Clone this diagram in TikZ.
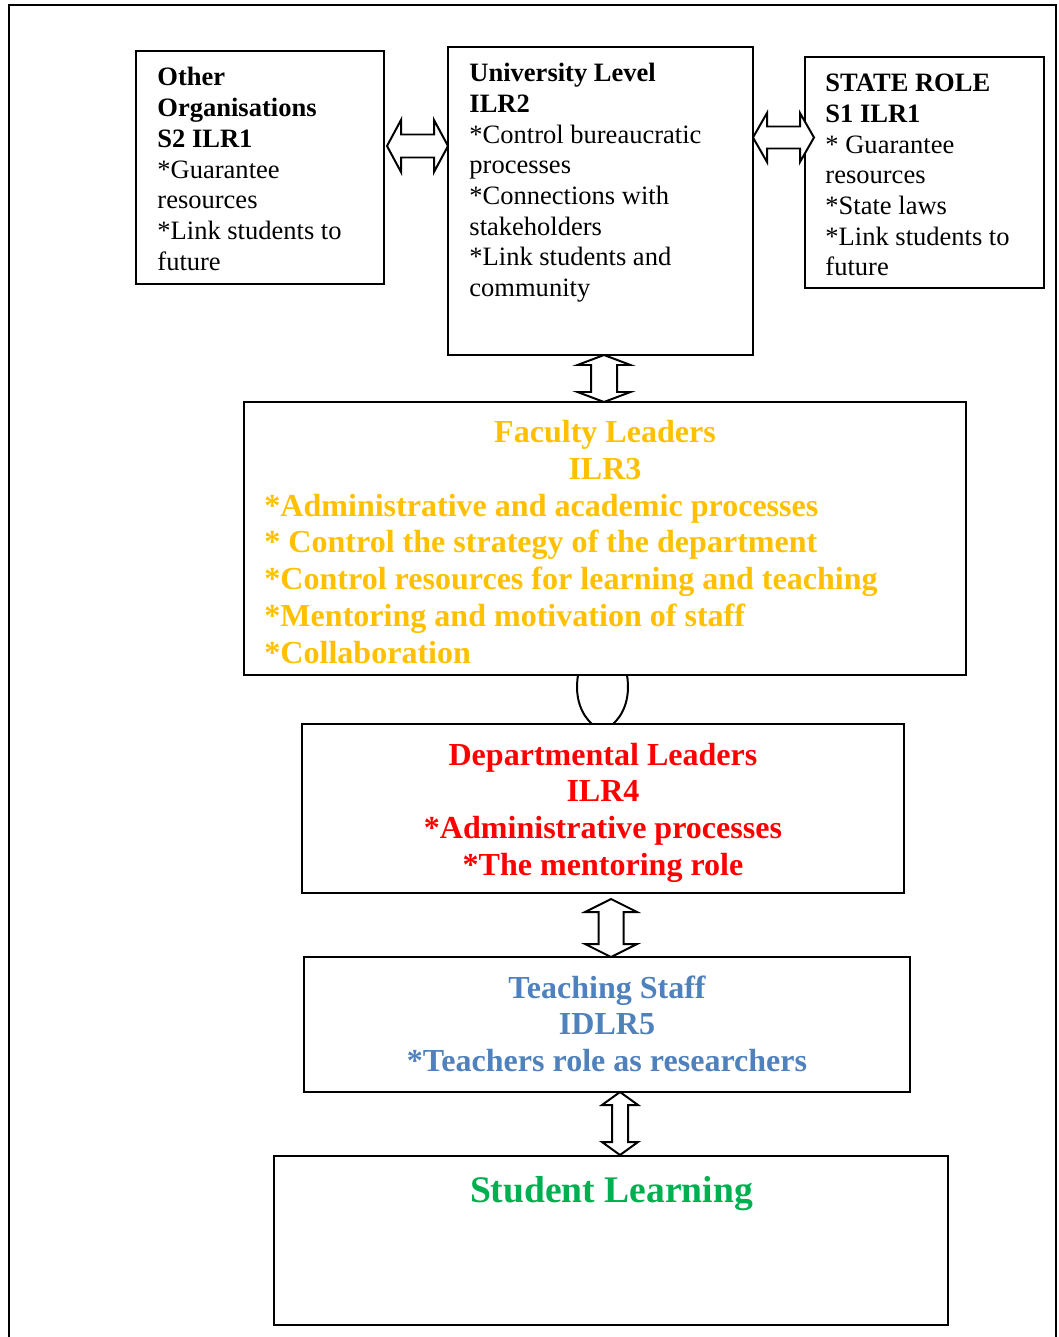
\documentclass[tikz,border=0pt]{standalone}
\usepackage{fontspec}
\setmainfont{Liberation Serif}
\usetikzlibrary{fit}
\definecolor{facyel}{HTML}{FFC000}
\definecolor{depred}{HTML}{FF0000}
\definecolor{teablue}{HTML}{4F81BD}
\definecolor{stugreen}{HTML}{00B050}
% horizontal double arrow: x1, x2, yc, head half height, shaft half height, head length
\newcommand{\hdarr}[6]{%
  \draw[fatarrow] (#1,#3) -- ({#1+#6},{#3-#4}) -- ({#1+#6},{#3-#5}) -- ({#2-#6},{#3-#5})
    -- ({#2-#6},{#3-#4}) -- (#2,#3) -- ({#2-#6},{#3+#4}) -- ({#2-#6},{#3+#5})
    -- ({#1+#6},{#3+#5}) -- ({#1+#6},{#3+#4}) -- cycle;}
% vertical double arrow: xc, y1, y2, head half width, shaft half width, head length
\newcommand{\vdarr}[6]{%
  \draw[fatarrow] (#1,#2) -- ({#1+#4},{#2+#6}) -- ({#1+#5},{#2+#6}) -- ({#1+#5},{#3-#6})
    -- ({#1+#4},{#3-#6}) -- (#1,#3) -- ({#1-#4},{#3-#6}) -- ({#1-#5},{#3-#6})
    -- ({#1-#5},{#2+#6}) -- ({#1-#4},{#2+#6}) -- cycle;}
\begin{document}
\begin{tikzpicture}[x=0.4525pt,y=-0.4525pt,
  box/.style={draw, line width=0.9pt, inner sep=0pt},
  fatarrow/.style={draw, line width=0.9pt, fill=white, line join=miter},
  small/.style={font=\fontsize{12}{14}\selectfont, inner sep=0pt},
  mid/.style={font=\fontsize{14.5}{17}\selectfont\bfseries, inner sep=0pt},
  big/.style={font=\fontsize{17}{20}\selectfont\bfseries, inner sep=0pt}]
\useasboundingbox (0,0) rectangle (1058,1337);
% outer frame (bottom edge lies below the page)
\draw[line width=0.9pt] (9,1350) -- (9,5) -- (1056,5) -- (1056,1350);

% boxes
\node[box, fit={(136,51)(384,284)}] (oth) {};
\node[box, fit={(448,47)(753,355)}] (uni) {};
\node[box, fit={(805,57)(1044,288)}] (sta) {};
\node[box, fit={(244,402)(966,675)}] (fac) {};
\node[box, fit={(302,724)(904,893)}] (dep) {};
\node[box, fit={(304,957)(910,1092)}] (tea) {};
\node[box, fit={(274,1156)(948,1325)}] (stu) {};

% texts of the top boxes
\foreach \t [count=\i] in {\textbf{Other},\textbf{Organisations},\textbf{S2 ILR1},*Guarantee,resources,*Link students to,future}
  \node[small, anchor=base west] (otht\i) at (157,{86+(\i-1)*30.7}) {\t};
\foreach \t [count=\i] in {\textbf{University Level},\textbf{ILR2},*Control bureaucratic,processes,*Connections with,stakeholders,*Link students and,community}
  \node[small, anchor=base west] (unit\i) at (469,{82+(\i-1)*30.6}) {\t};
\foreach \t [count=\i] in {\textbf{STATE ROLE},\textbf{S1 ILR1},* Guarantee,resources,*State laws,*Link students to,future}
  \node[small, anchor=base west] (stat\i) at (825,{92+(\i-1)*30.6}) {\t};

% faculty leaders
\node[mid, text=facyel, anchor=base] (fact1) at (605,442) {Faculty Leaders};
\node[mid, text=facyel, anchor=base] (fact2) at (605,479) {ILR3};
\foreach \t [count=\i] in {*Administrative and academic processes,* Control the strategy of the department,*Control resources for learning and teaching,*Mentoring and motivation of staff,*Collaboration}
  \node[mid, text=facyel, anchor=base west] (facl\i) at (264,{516+(\i-1)*36.8}) {\t};

% departmental leaders
\foreach \t [count=\i] in {Departmental Leaders,ILR4,*Administrative processes,*The mentoring role}
  \node[mid, text=depred, anchor=base] (dept\i) at (603,{765+(\i-1)*36.7}) {\t};

% teaching staff
\foreach \t [count=\i] in {Teaching Staff,IDLR5,*Teachers role as researchers}
  \node[mid, text=teablue, anchor=base] (teat\i) at (607,{998+(\i-1)*36.5}) {\t};

% student learning
\node[big, text=stugreen, anchor=base] (stut) at (611.5,1202) {Student Learning};

% connectors
\hdarr{387}{448}{146}{26}{11.5}{14}
\hdarr{753}{814}{137.5}{24.5}{11}{14}
\vdarr{604}{355}{402}{26.5}{13}{10}
\vdarr{611}{899}{957}{26}{12.5}{13}
\vdarr{620}{1092}{1155}{18}{8}{13}
\draw[line width=0.9pt] (578,675) .. controls (574,700) and (583,716) .. (592,724);
\draw[line width=0.9pt] (627,675) .. controls (631,700) and (622,716) .. (613,724);
\end{tikzpicture}
\end{document}
